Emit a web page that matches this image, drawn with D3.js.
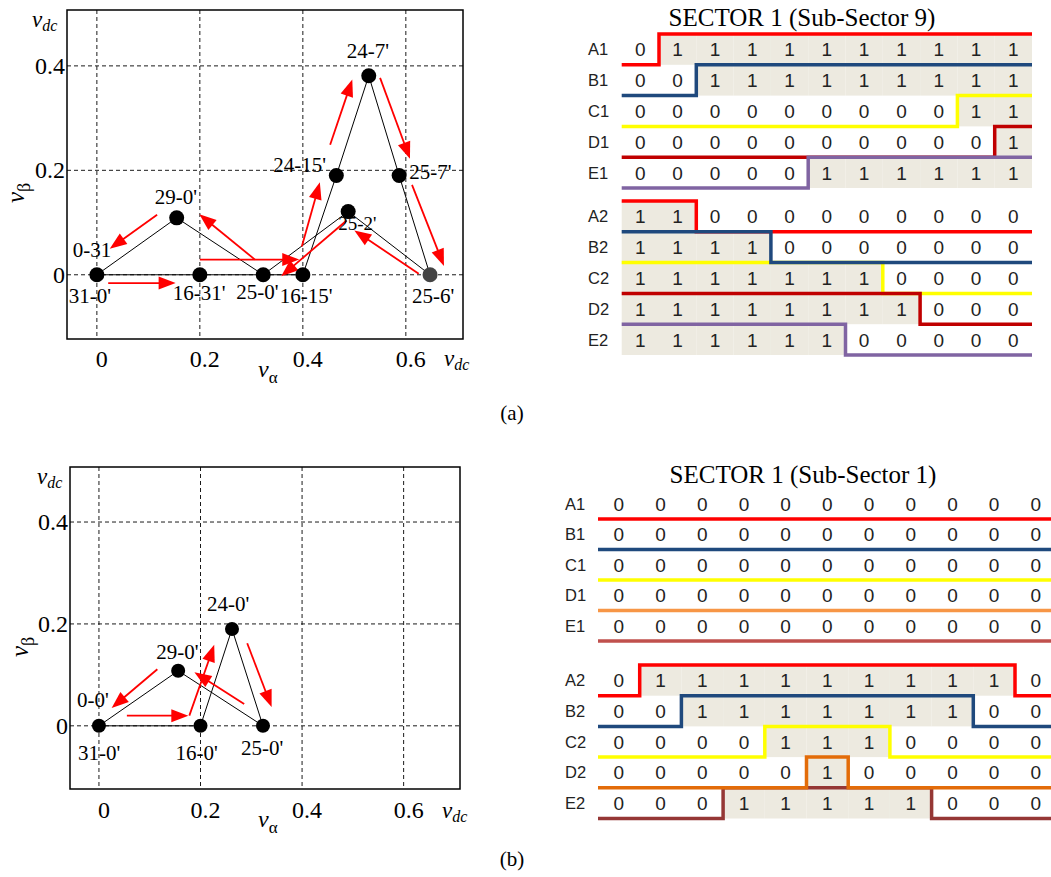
<!DOCTYPE html>
<html><head><meta charset="utf-8">
<script src="https://cdn.jsdelivr.net/npm/d3@7"></script>
<style>body{margin:0;background:#fff}svg{display:block}</style>
</head><body>
<svg id="c" width="1051" height="877"></svg>
<script>
// ---------------- DATA ----------------
const alphaTicks = [0, 0.2, 0.4, 0.6];
const alphaTickLabels = ["0", "0.2", "0.4", "0.6"];
const betaTicks = [0, 0.2, 0.4];
const betaTickLabels = ["0", "0.2", "0.4"];

// (a) sub-sector 9 space vectors
const vecA_alpha = [0, 0.155, 0.2, 0.323, 0.4, 0.465, 0.488, 0.528, 0.587, 0.647];
const vecA_beta  = [0, 0.109, 0, 0, 0, 0.19, 0.121, 0.381, 0.19, 0];
const vecA_links = [[0,1],[1,3],[0,4],[3,6],[6,9],[4,5],[5,7],[7,8],[8,9]];
const labelA_text = ["0-31", "31-0'", "29-0'", "16-31'", "25-0'", "16-15'", "24-15'", "25-2'", "24-7'", "25-7'", "25-6'"];
const labelA_vec  = [0, 0, 1, 2, 3, 4, 5, 6, 7, 8, 9];
const arrowsA_from = [[0.117,0.115],[0.022,-0.016],[0.307,0.029],[0.200,0.029],[0.485,0.104],[0.398,0.054],[0.453,0.249],[0.550,0.377],[0.612,0.172],[0.625,0.002]];
const arrowsA_to   = [[0.025,0.050],[0.153,-0.016],[0.199,0.116],[0.393,0.029],[0.358,-0.003],[0.433,0.177],[0.496,0.374],[0.608,0.222],[0.674,0.017],[0.500,0.085]];

// (b) sub-sector 1 space vectors
const vecB_alpha = [0, 0.156, 0.2, 0.262, 0.323];
const vecB_beta  = [0, 0.108, 0, 0.19, 0];
const vecB_links = [[0,1],[1,4],[0,2],[2,3],[3,4]];
const labelB_text = ["0-0'", "31-0'", "29-0'", "16-0'", "24-0'", "25-0'"];
const labelB_vec  = [0, 0, 1, 2, 3, 4];
const arrowsB_from = [[0.115,0.111],[0.055,0.020],[0.178,0.020],[0.286,0.043],[0.292,0.162]];
const arrowsB_to   = [[0.025,0.035],[0.176,0.020],[0.227,0.159],[0.188,0.105],[0.340,0.037]];

// switching tables
const sectorTitleA = "SECTOR 1 (Sub-Sector 9)";
const sectorTitleB = "SECTOR 1 (Sub-Sector 1)";
const rows1 = ["A1", "B1", "C1", "D1", "E1"];
const rows2 = ["A2", "B2", "C2", "D2", "E2"];
const bitsA1 = [
  [0,1,1,1,1,1,1,1,1,1,1],
  [0,0,1,1,1,1,1,1,1,1,1],
  [0,0,0,0,0,0,0,0,0,1,1],
  [0,0,0,0,0,0,0,0,0,0,1],
  [0,0,0,0,0,1,1,1,1,1,1]];
const bitsA2 = [
  [1,1,0,0,0,0,0,0,0,0,0],
  [1,1,1,1,0,0,0,0,0,0,0],
  [1,1,1,1,1,1,1,0,0,0,0],
  [1,1,1,1,1,1,1,1,0,0,0],
  [1,1,1,1,1,1,0,0,0,0,0]];
const bitsB1 = [
  [0,0,0,0,0,0,0,0,0,0,0],
  [0,0,0,0,0,0,0,0,0,0,0],
  [0,0,0,0,0,0,0,0,0,0,0],
  [0,0,0,0,0,0,0,0,0,0,0],
  [0,0,0,0,0,0,0,0,0,0,0]];
const bitsB2 = [
  [0,1,1,1,1,1,1,1,1,1,0],
  [0,0,1,1,1,1,1,1,1,0,0],
  [0,0,0,0,1,1,1,0,0,0,0],
  [0,0,0,0,0,1,0,0,0,0,0],
  [0,0,0,1,1,1,1,1,0,0,0]];
const colorsA1 = ["#FF0000", "#1F497D", "#FFFF00", "#C00000", "#8064A2"];
const colorsA2 = ["#FF0000", "#1F497D", "#FFFF00", "#C00000", "#8064A2"];
const colorsB1 = ["#FF0000", "#1F497D", "#FFFF00", "#F79646", "#C0504D"];
const colorsB2 = ["#FF0000", "#1F497D", "#FFFF00", "#E36C09", "#953735"];

// ---------------- DRAWING ----------------
const svg = d3.select("#c");
const serif = "'Liberation Serif','Times New Roman',serif";
const sans = "'Liberation Sans',Arial,sans-serif";

function vlabel(g, x, y, main, sub, size, subSize, subDy, transform) {
  const t = g.append("text").attr("font-family", serif).attr("font-size", size).attr("fill", "#000");
  if (transform) t.attr("transform", transform); else t.attr("x", x).attr("y", y);
  t.append("tspan").attr("font-style", "italic").text(main);
  t.append("tspan").attr("font-style", sub === "dc" ? "italic" : "normal").attr("font-size", subSize).attr("dy", subDy).text(sub);
}

function drawPlot(cfg) {
  const g = svg.append("g");
  const x = d3.scaleLinear().domain(cfg.xDomain).range([cfg.left, cfg.right]);
  const y = d3.scaleLinear().domain(cfg.yDomain).range([cfg.bottom, cfg.top]);
  // grid
  g.selectAll(null).data(alphaTicks).join("line")
    .attr("x1", d => x(d)).attr("x2", d => x(d)).attr("y1", cfg.top).attr("y2", cfg.bottom)
    .attr("stroke", "#000").attr("stroke-width", 0.9).attr("stroke-dasharray", "4,3");
  g.selectAll(null).data(betaTicks).join("line")
    .attr("y1", d => y(d)).attr("y2", d => y(d)).attr("x1", cfg.left).attr("x2", cfg.right)
    .attr("stroke", "#000").attr("stroke-width", 0.9).attr("stroke-dasharray", "4,3");
  // frame
  g.append("rect").attr("x", cfg.left).attr("y", cfg.top).attr("width", cfg.right - cfg.left)
    .attr("height", cfg.bottom - cfg.top).attr("fill", "none").attr("stroke", "#000").attr("stroke-width", 1.5);
  // tick labels
  g.selectAll(null).data(alphaTicks).join("text")
    .attr("x", d => x(d) + 5).attr("y", cfg.xTickY).attr("text-anchor", "middle")
    .attr("font-family", serif).attr("font-size", 24).text((d, i) => alphaTickLabels[i]);
  g.selectAll(null).data(betaTicks).join("text")
    .attr("x", cfg.left - 2).attr("y", d => y(d) + 8).attr("text-anchor", "end")
    .attr("font-family", serif).attr("font-size", 24).text((d, i) => betaTickLabels[i]);
  // axis labels
  vlabel(g, cfg.vdcTop[0], cfg.vdcTop[1], "v", "dc", 23, 16, 4);
  vlabel(g, cfg.vdcRight[0], cfg.vdcRight[1], "v", "dc", 23, 16, 4);
  vlabel(g, cfg.valpha[0], cfg.valpha[1], "v", "α", 24, 17, 6);
  vlabel(g, 0, 0, "v", "β", 25, 18, 6, `translate(${cfg.vbeta[0]},${cfg.vbeta[1]}) rotate(-90)`);
  // links
  g.selectAll(null).data(cfg.links).join("line")
    .attr("x1", d => x(cfg.ax[d[0]])).attr("y1", d => y(cfg.by[d[0]]))
    .attr("x2", d => x(cfg.ax[d[1]])).attr("y2", d => y(cfg.by[d[1]]))
    .attr("stroke", "#000").attr("stroke-width", 1);
  // arrows
  cfg.from.forEach((f, i) => {
    const t = cfg.to[i];
    const x1 = x(f[0]), y1 = y(f[1]), x2 = x(t[0]), y2 = y(t[1]);
    const dx = x2 - x1, dy = y2 - y1, len = Math.hypot(dx, dy);
    const ux = dx / len, uy = dy / len, L = 17, w = 6.5;
    const bx = x2 - ux * L, by = y2 - uy * L;
    g.append("line").attr("x1", x1).attr("y1", y1).attr("x2", bx + ux * 2).attr("y2", by + uy * 2)
      .attr("stroke", "#FF0000").attr("stroke-width", 1.8);
    g.append("path").attr("d", `M${x2},${y2}L${bx - uy * w},${by + ux * w}L${bx + uy * w},${by - ux * w}Z`)
      .attr("fill", "#FF0000");
  });
  // dots
  g.selectAll(null).data(cfg.ax).join("circle")
    .attr("cx", d => x(d)).attr("cy", (d, i) => y(cfg.by[i])).attr("r", cfg.r)
    .attr("fill", (d, i) => cfg.grayDot === i ? "#444" : "#000");
  // point labels
  cfg.labels.forEach((txt, i) => {
    const v = cfg.labelVec[i];
    g.append("text").attr("x", x(cfg.ax[v]) + cfg.ldx[i]).attr("y", y(cfg.by[v]) + cfg.ldy[i])
      .attr("font-family", serif).attr("font-size", cfg.lsize[i]).attr("fill", "#000").text(txt);
  });
}

drawPlot({
  left: 67, right: 463, top: 10, bottom: 339,
  xDomain: [-0.058, 0.711], yDomain: [-0.123, 0.507],
  xTickY: 367, vdcTop: [32, 27], vdcRight: [444, 366], valpha: [258, 377], vbeta: [24, 203],
  ax: vecA_alpha, by: vecA_beta, links: vecA_links, from: arrowsA_from, to: arrowsA_to,
  r: 7.5, grayDot: 9,
  labels: labelA_text, labelVec: labelA_vec,
  ldx: [-24, -28, -22, -27, -27, -23, -63, -10, -22, 10, -18],
  ldy: [-18, 28, -14, 25, 24, 28, -4, 18, -18, 3, 28],
  lsize: [21, 21, 21, 21, 21, 21, 21, 19, 21, 21, 21]
});

drawPlot({
  left: 70, right: 460, top: 467, bottom: 789,
  xDomain: [-0.057, 0.711], yDomain: [-0.124, 0.508],
  xTickY: 818, vdcTop: [37, 484], vdcRight: [442, 818], valpha: [258, 827], vbeta: [28, 657],
  ax: vecB_alpha, by: vecB_beta, links: vecB_links, from: arrowsB_from, to: arrowsB_to,
  r: 7, grayDot: -1,
  labels: labelB_text, labelVec: labelB_vec,
  ldx: [-22, -21, -22, -25, -25, -22],
  ldy: [-19, 34, -12, 34, -18, 29],
  lsize: [21, 21, 21, 21, 21, 21]
});

function drawTiming(cfg) {
  const g = svg.append("g");
  const x = d3.scaleLinear().domain([0, 11]).range([cfg.x0, cfg.x0 + 11 * cfg.pitch]);
  const r = d3.scaleLinear().domain([0, 5]).range([cfg.top, cfg.top + 5 * cfg.rowPitch]);
  // shading
  cfg.bits.forEach((row, i) => row.forEach((b, j) => {
    if (b) g.append("rect").attr("x", x(j)).attr("y", r(i)).attr("width", x(j + 1) - x(j))
      .attr("height", r(i + 1) - r(i)).attr("fill", "#EDEAE0");
  }));
  // numbers
  cfg.bits.forEach((row, i) => {
    g.selectAll(null).data(row).join("text")
      .attr("x", (d, j) => (x(j) + x(j + 1)) / 2).attr("y", (r(i) + r(i + 1)) / 2 + 7)
      .attr("text-anchor", "middle").attr("font-family", sans).attr("font-size", 19).attr("fill", "#222")
      .text(d => d);
    g.append("text").attr("x", cfg.labelX).attr("y", (r(i) + r(i + 1)) / 2 + cfg.labelDy)
      .attr("font-family", sans).attr("font-size", 16.5).attr("fill", "#222").text(cfg.names[i]);
  });
  // step lines
  const line = d3.line().curve(d3.curveStepAfter).x(d => d[0]).y(d => d[1]);
  cfg.order.forEach(i => {
    const row = cfg.bits[i];
    const pts = row.map((b, j) => [x(j), b ? r(i) : r(i + 1)]);
    pts.push([x(11), row[10] ? r(i) : r(i + 1)]);
    g.append("path").attr("d", line(pts)).attr("fill", "none")
      .attr("stroke", cfg.colors[i]).attr("stroke-width", 3.5).attr("stroke-linejoin", "miter");
  });
}

svg.append("text").attr("x", 802).attr("y", 26).attr("text-anchor", "middle")
  .attr("font-family", serif).attr("font-size", 25).text(sectorTitleA);
svg.append("text").attr("x", 803).attr("y", 483).attr("text-anchor", "middle")
  .attr("font-family", serif).attr("font-size", 25).text(sectorTitleB);

drawTiming({ names: rows1, bits: bitsA1, colors: colorsA1, order: [0,1,2,3,4],
  x0: 621.7, pitch: 37.3, top: 34, rowPitch: 30.8, labelX: 588, labelDy: 6 });
drawTiming({ names: rows2, bits: bitsA2, colors: colorsA2, order: [0,2,1,3,4],
  x0: 621.7, pitch: 37.3, top: 201, rowPitch: 30.8, labelX: 588, labelDy: 6 });
drawTiming({ names: rows1, bits: bitsB1, colors: colorsB1, order: [0,1,2,3,4],
  x0: 598, pitch: 41.7, top: 488.5, rowPitch: 30.5, labelX: 565, labelDy: 6 });
drawTiming({ names: rows2, bits: bitsB2, colors: colorsB2, order: [0,1,2,4,3],
  x0: 598, pitch: 41.7, top: 665, rowPitch: 30.7, labelX: 565, labelDy: 6 });

svg.append("text").attr("x", 512).attr("y", 420).attr("text-anchor", "middle")
  .attr("font-family", serif).attr("font-size", 21).text("(a)");
svg.append("text").attr("x", 512).attr("y", 866).attr("text-anchor", "middle")
  .attr("font-family", serif).attr("font-size", 21).text("(b)");
</script>
</body></html>
